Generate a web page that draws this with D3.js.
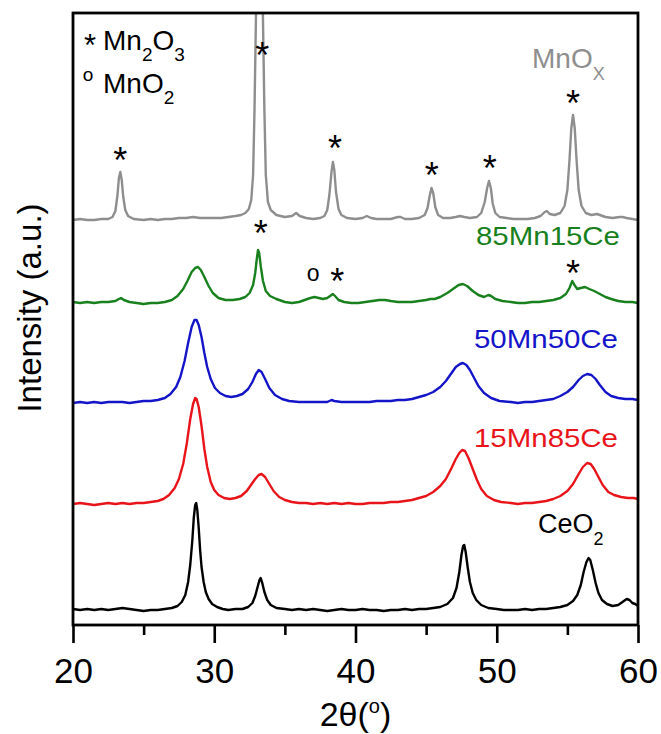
<!DOCTYPE html>
<html>
<head>
<meta charset="utf-8">
<script src="https://cdn.jsdelivr.net/npm/d3@7"></script>
<style>
  html, body { margin: 0; padding: 0; background: #fff; }
  svg { display: block; font-family: "Liberation Sans", Arial, sans-serif; }
</style>
</head>
<body>
<svg id="chart" width="661" height="734"></svg>
<script>
// ---- data: XRD patterns, [2θ (deg), intensity above the pattern's own baseline] ----
const twoThetaTicks = [20, 30, 40, 50, 60];
const twoThetaMinor = [25, 35, 45, 55];
const sampleNames = ["CeO2", "15Mn85Ce", "50Mn50Ce", "85Mn15Ce", "MnOx"];
const stackOffsets = [15, 121, 222, 322, 405];

const ceo2 = [[20,1],[20.5,0],[21,1],[21.5,0],[22,1],[22.5,0],[23,1],[23.5,2],[24,1],[24.5,0],[25,-1],[25.5,0],[26,0],[26.5,1],[27,2],[27.4,4],[27.7,8],[27.95,15],[28.15,28],[28.3,45],[28.45,70],[28.55,92],[28.65,105],[28.72,107],[28.8,100],[28.9,82],[29.0,60],[29.1,43],[29.25,28],[29.4,18],[29.6,11],[29.85,6],[30.2,3],[30.6,1],[31,0],[31.5,1],[32,1],[32.4,3],[32.7,7],[32.9,14],[33.05,22],[33.2,30],[33.28,32],[33.4,27],[33.55,18],[33.75,10],[34,5],[34.4,2],[35,1],[35.5,0],[36,1],[36.5,0],[37,1],[37.5,0],[38,-1],[38.5,0],[39,1],[39.5,0],[40,0],[40.5,1],[41,0],[41.5,0],[42,-1],[42.5,0],[43,0],[43.5,1],[44,0],[44.5,1],[45,1],[45.5,2],[46,3],[46.5,6],[46.9,12],[47.15,22],[47.35,38],[47.5,55],[47.62,64],[47.7,65],[47.8,58],[47.95,42],[48.1,28],[48.3,17],[48.55,10],[48.9,5],[49.4,2],[50,1],[50.5,0],[51,0],[51.5,0],[52,1],[52.5,0],[53,1],[53.5,1],[54,2],[54.5,3],[55,5],[55.4,9],[55.7,15],[55.95,25],[56.15,38],[56.35,48],[56.5,52],[56.62,50],[56.8,40],[57,27],[57.2,17],[57.45,10],[57.8,6],[58.2,4],[58.6,5],[58.9,8],[59.2,11],[59.4,10],[59.6,7],[59.8,6],[60,4]];

const mn15ce85 = [[20,0],[20.5,1],[21,0],[21.5,-1],[22,0],[22.5,1],[23,0],[23.5,1],[24,0],[24.5,1],[25,1],[25.5,2],[26,3],[26.4,5],[26.8,9],[27.2,16],[27.5,25],[27.8,40],[28.05,60],[28.3,85],[28.5,100],[28.65,106],[28.75,105],[28.9,97],[29.1,78],[29.3,55],[29.5,37],[29.75,22],[30.0,14],[30.3,9],[30.7,6],[31.1,5],[31.5,6],[31.9,8],[32.3,13],[32.6,19],[32.9,25],[33.15,29],[33.35,30],[33.6,27],[33.9,20],[34.2,13],[34.6,7],[35,4],[35.5,2],[36,1],[36.5,1],[37,0],[37.5,1],[38,0],[38.5,1],[39,0],[39.5,1],[40,0],[40.5,0],[41,1],[41.5,1],[42,1],[42.5,2],[43,2],[43.5,3],[44,4],[44.5,6],[45,8],[45.5,12],[46,18],[46.4,25],[46.8,36],[47.1,45],[47.35,51],[47.55,54],[47.75,53],[48,46],[48.3,35],[48.6,24],[48.9,15],[49.3,8],[49.8,4],[50.3,2],[51,1],[51.5,0],[52,1],[52.5,1],[53,2],[53.5,3],[54,5],[54.5,8],[55,13],[55.4,20],[55.8,30],[56.1,37],[56.4,41],[56.65,40],[56.9,35],[57.2,27],[57.5,19],[57.9,12],[58.3,9],[58.8,7],[59.3,6],[59.7,6],[60,5]];

const mn50ce50 = [[20,0],[20.5,1],[21,0],[21.5,1],[22,0],[22.5,1],[23,1],[23.5,1],[24,0],[24.5,1],[25,2],[25.5,2],[26,3],[26.5,5],[26.9,9],[27.3,16],[27.6,26],[27.9,42],[28.15,60],[28.4,76],[28.6,83],[28.75,83],[28.9,78],[29.1,66],[29.3,50],[29.5,36],[29.75,24],[30.05,15],[30.4,10],[30.8,7],[31.2,6],[31.6,7],[32,9],[32.4,14],[32.7,21],[32.95,29],[33.15,33],[33.35,31],[33.6,24],[33.9,15],[34.3,8],[34.8,4],[35.3,2],[36,1],[36.5,1],[37,1],[37.5,1],[38,1],[38.3,3],[38.5,2],[39,1],[39.5,1],[40,1],[40.5,1],[41,1],[41.5,2],[42,2],[42.5,2],[43,3],[43.5,3],[44,4],[44.5,6],[45,8],[45.5,11],[46,16],[46.4,22],[46.8,30],[47.1,36],[47.4,39],[47.6,40],[47.85,38],[48.1,33],[48.4,25],[48.7,17],[49.1,10],[49.6,5],[50.2,2],[51,1],[51.5,0],[52,1],[52.5,1],[53,2],[53.5,3],[54,4],[54.5,7],[55,11],[55.4,16],[55.8,23],[56.1,27],[56.4,29],[56.7,28],[57,24],[57.3,18],[57.7,11],[58.1,7],[58.6,5],[59.1,4],[59.6,4],[60,3]];

const mn85ce15 = [[20,1],[20.5,0],[21,1],[21.5,0],[22,1],[22.5,1],[23,2],[23.25,4],[23.4,5],[23.6,3],[24,1],[24.5,0],[25,-1],[25.5,0],[26,0],[26.5,1],[27,3],[27.4,7],[27.8,14],[28.1,22],[28.4,31],[28.65,35],[28.85,36],[29.05,33],[29.3,26],[29.6,17],[29.9,10],[30.3,5],[30.8,3],[31.3,3],[31.8,4],[32.2,6],[32.5,10],[32.75,18],[32.9,30],[33.02,45],[33.1,53],[33.18,50],[33.3,36],[33.45,22],[33.65,12],[33.95,7],[34.4,4],[35,1],[35.5,0],[36,1],[36.4,3],[36.8,5],[37.1,6],[37.4,5],[37.7,4],[38,5],[38.2,7],[38.4,9],[38.55,7],[38.8,3],[39.2,1],[39.7,0],[40.2,0],[40.7,1],[41.2,2],[41.7,3],[42.1,3],[42.5,2],[43,1],[43.5,1],[44,1],[44.5,2],[45,3],[45.3,4],[45.6,4],[46,6],[46.5,10],[46.9,14],[47.3,18],[47.6,19],[47.9,17],[48.3,12],[48.7,8],[49.1,6],[49.4,8],[49.6,7],[49.9,4],[50.4,2],[51,1],[51.5,0],[52,0],[52.5,1],[53,1],[53.5,2],[54,3],[54.5,5],[54.9,9],[55.15,15],[55.35,22],[55.5,18],[55.7,14],[55.95,15],[56.25,16],[56.55,14],[56.9,12],[57.3,9],[57.7,6],[58.1,4],[58.6,2],[59.1,1],[59.6,1],[60,0]];

const mnox = [[20,0],[20.5,1],[21,0],[21.5,0],[22,1],[22.5,1],[22.8,3],[23.0,9],[23.15,25],[23.25,42],[23.35,48],[23.45,40],[23.55,24],[23.7,10],[23.9,4],[24.3,1],[25,0],[25.5,1],[26,0],[26.5,1],[27,1],[27.5,2],[28,2],[28.5,3],[29,2],[29.5,2],[30,2],[30.5,2],[31,3],[31.5,4],[31.9,5],[32.2,7],[32.45,11],[32.62,20],[32.75,45],[32.85,110],[32.95,200],[33.05,320],[33.35,320],[33.45,200],[33.55,110],[33.65,45],[33.8,18],[34.0,10],[34.4,5],[35,3],[35.5,4],[35.8,7],[36.05,4],[36.5,2],[37,1],[37.5,2],[37.8,4],[38.0,10],[38.15,25],[38.3,48],[38.4,58],[38.5,50],[38.62,28],[38.8,11],[39.0,5],[39.4,2],[40,1],[40.5,2],[40.8,4],[41.1,2],[41.5,1],[42,1],[42.5,1],[43.0,3],[43.2,3],[43.5,1],[44,1],[44.5,2],[44.9,5],[45.1,12],[45.25,24],[45.38,32],[45.5,27],[45.65,13],[45.85,5],[46.2,2],[46.7,2],[47.1,3],[47.4,4],[47.7,3],[48.1,2],[48.6,3],[48.9,7],[49.15,18],[49.32,32],[49.45,39],[49.58,32],[49.72,16],[49.9,7],[50.2,3],[50.7,2],[51.2,1],[51.7,1],[52.2,1],[52.7,2],[53.1,4],[53.4,8],[53.55,9],[53.75,6],[54.1,5],[54.5,7],[54.8,14],[55.0,30],[55.15,60],[55.28,92],[55.4,105],[55.52,92],[55.65,60],[55.8,30],[56.0,14],[56.3,7],[56.7,5],[57.1,6],[57.3,5],[57.7,3],[58.2,2],[58.7,3],[58.9,3],[59.2,2],[59.6,1],[60,0]];

const patterns = [ceo2, mn15ce85, mn50ce50, mn85ce15, mnox];

// phase markers: [2θ, stacked intensity level, symbol]
const phaseMarks = [
  [23.35, 473, "*"], [33.4, 578, "*"], [38.55, 485, "*"], [45.4, 458, "*"], [49.5, 465, "*"], [55.4, 530, "*"],
  [33.3, 400, "*"], [37.0, 350, "o"], [38.7, 352, "*"], [55.4, 360, "*"]
];

// ---- layout & style ----
const colors = ["#000000", "#e8141a", "#1414c8", "#18801c", "#8e8e8e"];
const margin = { left: 73, top: 13, right: 23, bottom: 109 };
const W = 661, H = 734;
const width = W - margin.left - margin.right;   // 565
const height = H - margin.top - margin.bottom;  // 612

const svg = d3.select("#chart");
const g = svg.append("g").attr("transform", `translate(${margin.left},${margin.top})`);

const x = d3.scaleLinear().domain([20, 60]).range([0, width]);
const y = d3.scaleLinear().domain([0, 612]).range([height, 0]);

svg.append("defs").append("clipPath").attr("id", "plot-clip")
  .append("rect").attr("x", 0).attr("y", 0).attr("width", width).attr("height", height);

// patterns
const line = d3.line().x(d => x(d[0])).y(d => y(d[1])).curve(d3.curveLinear);
const traces = g.append("g").attr("clip-path", "url(#plot-clip)");
patterns.forEach((pts, i) => {
  traces.append("path")
    .datum(pts.map(p => [p[0], p[1] + stackOffsets[i]]))
    .attr("d", line)
    .attr("fill", "none")
    .attr("stroke", colors[i])
    .attr("stroke-width", 2.4)
    .attr("stroke-linejoin", "round");
});

// phase markers
phaseMarks.forEach(([t, lvl, sym]) => {
  if (sym === "*") {
    g.append("text").attr("x", x(t)).attr("y", y(lvl) + 21)
      .attr("text-anchor", "middle").attr("font-size", 36).attr("fill", "#000").text("*");
  } else {
    g.append("text").attr("x", x(t)).attr("y", y(lvl) + 6)
      .attr("text-anchor", "middle").attr("font-size", 23).attr("fill", "#000").text("o");
  }
});

// sample labels
function subLabel(px, py, main, sub, color, size, subSize, subDy) {
  const t = g.append("text").attr("x", px).attr("y", py).attr("fill", color).attr("font-size", size);
  t.append("tspan").text(main);
  t.append("tspan").attr("font-size", subSize).attr("dy", subDy).text(sub);
  return t;
}
subLabel(459, 55, "MnO", "X", colors[4], 28, 18, 12);
g.append("text").attr("x", 547).attr("y", 232).attr("text-anchor", "end")
  .attr("font-size", 26).attr("fill", colors[3])
  .attr("textLength", 144).attr("lengthAdjust", "spacingAndGlyphs").text(sampleNames[3]);
g.append("text").attr("x", 545).attr("y", 335).attr("text-anchor", "end")
  .attr("font-size", 26).attr("fill", colors[2])
  .attr("textLength", 144).attr("lengthAdjust", "spacingAndGlyphs").text(sampleNames[2]);
g.append("text").attr("x", 545).attr("y", 434).attr("text-anchor", "end")
  .attr("font-size", 26).attr("fill", colors[1])
  .attr("textLength", 144).attr("lengthAdjust", "spacingAndGlyphs").text(sampleNames[1]);
subLabel(465, 520, "CeO", "2", colors[0], 27, 18, 12);

// phase legend
g.append("text").attr("x", 17).attr("y", 43).attr("text-anchor", "middle")
  .attr("font-size", 31).text("*");
(function () {
  const t = g.append("text").attr("x", 30).attr("y", 37).attr("font-size", 28);
  t.append("tspan").text("Mn");
  t.append("tspan").attr("font-size", 19).attr("dy", 11).text("2");
  t.append("tspan").attr("dy", -11).text("O");
  t.append("tspan").attr("font-size", 19).attr("dy", 11).text("3");
})();
g.append("text").attr("x", 15).attr("y", 68).attr("text-anchor", "middle")
  .attr("font-size", 19).text("o");
subLabel(30, 80, "MnO", "2", "#000", 28, 19, 11);

// axes
const xAxis = d3.axisBottom(x).tickValues(twoThetaTicks).tickSize(18).tickPadding(15).tickFormat(d3.format("d"));
const xMinor = d3.axisBottom(x).tickValues(twoThetaMinor).tickSize(10).tickFormat("");
const ax = g.append("g").attr("transform", `translate(0,${height})`).call(xAxis);
const axm = g.append("g").attr("transform", `translate(0,${height})`).call(xMinor);
[ax, axm].forEach(a => {
  a.select(".domain").remove();
  a.selectAll(".tick line").attr("stroke", "#000").attr("stroke-width", 2.6);
});
ax.selectAll(".tick text").attr("font-size", 35).attr("fill", "#000")
  .attr("font-family", "'Liberation Sans', Arial, sans-serif");

// frame
g.append("rect").attr("x", 0).attr("y", 0).attr("width", width).attr("height", height)
  .attr("fill", "none").attr("stroke", "#000").attr("stroke-width", 2.8);

// axis titles
const xt = svg.append("text").attr("x", margin.left + width / 2).attr("y", 726)
  .attr("text-anchor", "middle").attr("font-size", 34).attr("fill", "#000");
xt.append("tspan").text("2θ(");
xt.append("tspan").attr("font-size", 20).attr("dy", -13).text("o");
xt.append("tspan").attr("dy", 13).text(")");

svg.append("text").attr("transform", "translate(41,308) rotate(-90)")
  .attr("text-anchor", "middle").attr("font-size", 33).attr("fill", "#000")
  .text("Intensity (a.u.)");
</script>
</body>
</html>
